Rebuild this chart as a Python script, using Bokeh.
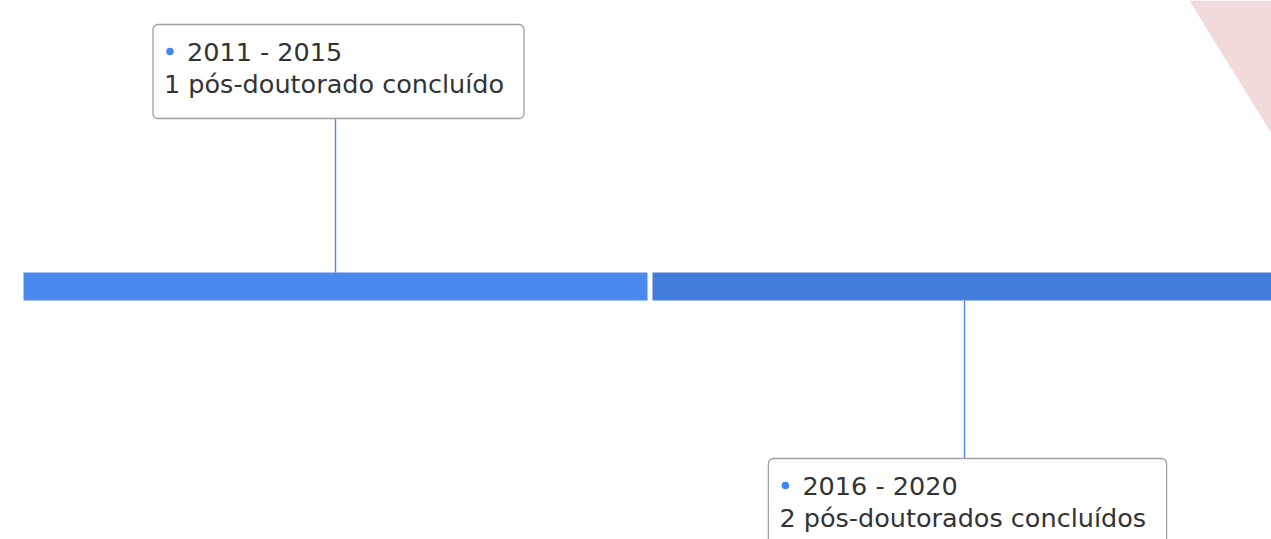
from bokeh.plotting import figure
from bokeh.models import Range1d
from bokeh.core.properties import value
from bokeh.embed import file_html
from bokeh.resources import INLINE

# ---- data ----
periods = ["2011 - 2015", "2016 - 2020"]
counts = [1, 2]
descriptions = ["1 pós-doutorado concluído", "2 pós-doutorados concluídos"]
bar_colors = ["#4a89ee", "#437ddb"]

# ---- layout constants (px) ----
W, H = 1271, 539
SEG = 629          # segment pitch
GAP = 5            # gap between segments
BAR_H = 28
STEM = 154         # connector length
BOX_H = 94
CHAR_W = 13.6
PAD = 31
FONT = "DejaVu Sans"
FS = "25.5px"
TXT = "#333333"
X0, Y0 = 23, 286   # screen position of timeline origin

p = figure(width=W, height=H, output_backend="svg", toolbar_location=None,
           x_range=Range1d(-X0, W - X0), y_range=Range1d(-(H - Y0), Y0),
           min_border=0)
p.axis.visible = False
p.grid.visible = False
p.outline_line_color = None
p.background_fill_color = "white"
p.border_fill_color = "white"

# decorative pink corner
p.patch(x=[1166, 1330, 1330], y=[Y0, Y0, Y0 - 266], fill_color="#f2d9da",
        line_color=None)

lefts = [i * SEG for i in range(len(periods))]
rights = [l + SEG - GAP for l in lefts]
p.quad(left=lefts, right=rights, bottom=-BAR_H / 2, top=BAR_H / 2,
       fill_color=bar_colors, line_color=None)

for i, (per, desc) in enumerate(zip(periods, descriptions)):
    cx = lefts[i] + (SEG - GAP) / 2
    up = (i % 2 == 0)
    bw = max(len(desc), len(per) + 2) * CHAR_W + PAD
    bl = cx - bw / 2 + 3
    if up:
        y0 = BAR_H / 2
        ybox_bottom = y0 + STEM
        ybox_top = ybox_bottom + BOX_H
    else:
        y0 = -BAR_H / 2
        ybox_top = y0 - STEM - 4
        ybox_bottom = ybox_top - BOX_H
    ystem_end = ybox_bottom if up else ybox_top
    p.line(x=[cx, cx], y=[y0, ystem_end], line_color="#4a89ee", line_width=1.4)
    p.quad(left=[bl], right=[bl + bw], bottom=[ybox_bottom], top=[ybox_top],
           fill_color="white", line_color="#a0a0a0", line_width=1.3,
           border_radius=5)
    p.scatter(x=[bl + 17], y=[ybox_top - 27], size=7.5, marker="circle",
              fill_color="#4185f3", line_color=None)
    p.text(x=[bl + 34], y=[ybox_top - 27], text=[per], text_font=value(FONT),
           text_font_size=FS, text_color=TXT, text_baseline="middle")
    p.text(x=[bl + 11], y=[ybox_top - 59], text=[desc], text_font=value(FONT),
           text_font_size=FS, text_color=TXT, text_baseline="middle")

open("out.html", "w").write(file_html(p, INLINE))
